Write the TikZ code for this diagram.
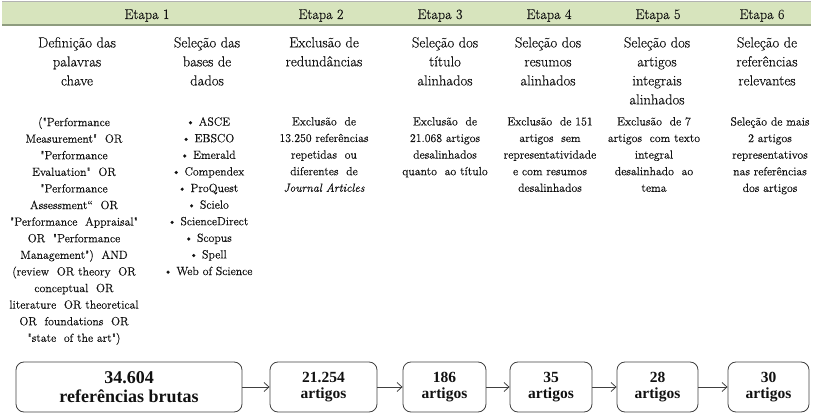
\documentclass[tikz,border=0pt]{standalone}
\usepackage{fontspec}
\setmainfont{Latin Modern Roman}[Ligatures=TeXOff, UprightFeatures={FakeBold=0.3}, ItalicFeatures={FakeBold=0.3}, BoldFont={Liberation Serif Bold}]
\usetikzlibrary{arrows.meta}
\definecolor{band}{HTML}{D7E4BD}
\definecolor{bandline}{HTML}{8E9C7E}
\definecolor{ink}{HTML}{111111}
\definecolor{edge}{HTML}{404040}
\newcommand\qq{\symbol{34}}
\tikzset{
 hdr/.style={anchor=base, font=\fontsize{14.2}{18}\selectfont, text=ink, inner sep=0},
 sub/.style={anchor=north, align=center, inner sep=0, font=\fontsize{14.6}{19}\selectfont, text=ink, execute at begin node=\strut},
 body/.style={anchor=north, align=center, inner sep=0, font=\fontsize{11.8}{16.6}\selectfont, text=ink, execute at begin node=\strut},
 stage/.style={draw=edge, line width=0.8pt, rounded corners=8pt, minimum height=50pt, align=center, inner sep=0, text=ink, font=\bfseries\fontsize{15.5}{16.5}\selectfont},
 flow/.style={-{Straight Barb[length=5pt,width=9pt]}, draw=edge, line width=0.8pt}
}
\begin{document}
\begin{tikzpicture}[x=1pt,y=-1pt]
\useasboundingbox (0,0) rectangle (814,419);
% header band
\fill[band] (2,1) rectangle (811,25);
\draw[bandline, line width=1.5pt] (2,25) -- (811,25);
\draw[gray!60, line width=0.4pt] (2,1) -- (811,1);
\node[hdr] (h1) at (147,19) {Etapa 1};
\node[hdr] (h2) at (321,19) {Etapa 2};
\node[hdr] (h3) at (440,19) {Etapa 3};
\node[hdr] (h4) at (549,19) {Etapa 4};
\node[hdr] (h5) at (658,19) {Etapa 5};
\node[hdr] (h6) at (762,19) {Etapa 6};
% subtitles
\node[sub] (s1a) at (77,37) {Definição das\\palavras\\chave};
\node[sub] (s1b) at (207,37) {Seleção das\\bases de\\dados};
\node[sub] (s2) at (324,37) {Exclusão de\\redundâncias};
\node[sub] (s3) at (445,37) {Seleção dos\\título\\alinhados};
\node[sub] (s4) at (548,37) {Seleção dos\\resumos\\alinhados};
\node[sub] (s5) at (657,37) {Seleção dos\\artigos\\integrais\\alinhados};
\node[sub] (s6) at (767,37) {Seleção de\\referências\\relevantes};
% bodies
\node[body] (b1a) at (74,117) {(\qq Performance\\Measurement\qq\ \ OR\\\qq Performance\\Evaluation\qq\ \ OR\\\qq Performance\\Assessment“\ \ OR\\\qq Performance\ \ Appraisal\qq\\OR\ \ \qq Performance\\Management\qq)\ \ AND\\(review\ \ OR theory\ \ OR\\conceptual\ \ OR\\literature\ \ OR theoretical\\OR\ \ foundations\ \ OR\\\qq state\ \ of the art\qq)};
\node[body] (b1b) at (208,117) {• ASCE\\• EBSCO\\• Emerald\\• Compendex\\• ProQuest\\• Scielo\\• ScienceDirect\\• Scopus\\• Spell\\• Web of Science};
\node[body] (b2) at (324,117) {Exclusão\ \ de\\13.250 referências\\repetidas\ \ ou\\diferentes\ \ de\\\textit{Journal Articles}};
\node[body] (b3) at (445,117) {Exclusão\ \ de\\21.068 artigos\\desalinhados\\quanto\ \ ao título};
\node[body] (b4) at (550,117) {Exclusão\ \ de 151\\artigos\ \ sem\\representatividade\\e com resumos\\desalinhados};
\node[body] (b5) at (654,117) {Exclusão\ \ de 7\\artigos\ \ com texto\\integral\\desalinhado\ \ ao\\tema};
\node[body] (b6) at (770,117) {Seleção de mais\\2 artigos\\representativos\\nas referências\\dos artigos};
% stage boxes
\node[stage, minimum width=226pt, font=\bfseries\fontsize{18}{18.5}\selectfont] (n1) at (129,387) {34.604\\referências\ brutas};
\node[stage, minimum width=107pt] (n2) at (323.5,387) {21.254\\artigos};
\node[stage, minimum width=83pt] (n3) at (444.5,387) {186\\artigos};
\node[stage, minimum width=82pt] (n4) at (551,387) {35\\artigos};
\node[stage, minimum width=81pt] (n5) at (657.5,387) {28\\artigos};
\node[stage, minimum width=81pt] (n6) at (768.5,387) {30\\artigos};
\draw[flow] (n1) -- (n2);
\draw[flow] (n2) -- (n3);
\draw[flow] (n3) -- (n4);
\draw[flow] (n4) -- (n5);
\draw[flow] (n5) -- (n6);
\end{tikzpicture}
\end{document}
